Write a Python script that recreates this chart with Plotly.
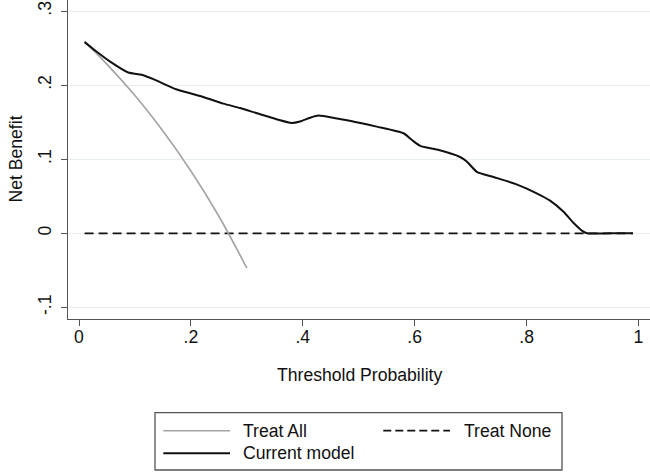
import plotly.graph_objects as go

# ---------------- data ----------------
threshold_model = [0.01, 0.03, 0.055, 0.088, 0.112, 0.133, 0.175, 0.222, 0.258, 0.288,
                   0.318, 0.353, 0.380, 0.395, 0.413, 0.428, 0.461, 0.484, 0.532, 0.580,
                   0.595, 0.610, 0.640, 0.681, 0.693, 0.711, 0.741, 0.782, 0.818, 0.842,
                   0.866, 0.884, 0.900, 0.908, 0.95, 0.99]
net_benefit_model = [0.258, 0.246, 0.232, 0.217, 0.214, 0.208, 0.194, 0.184, 0.175, 0.169,
                     0.162, 0.154, 0.149, 0.151, 0.156, 0.159, 0.155, 0.152, 0.144, 0.135,
                     0.126, 0.118, 0.113, 0.103, 0.097, 0.083, 0.076, 0.066, 0.054, 0.044,
                     0.029, 0.014, 0.003, 0.0, 0.0, 0.0]

threshold_all = [0.01, 0.05, 0.10, 0.15, 0.20, 0.25, 0.30]
net_benefit_all = [0.259, 0.228, 0.186, 0.138, 0.084, 0.023, -0.047]

threshold_none = [0.01, 0.99]
net_benefit_none = [0.0, 0.0]

x_tick_vals = [0, 0.2, 0.4, 0.6, 0.8, 1]
x_tick_text = ["0", ".2", ".4", ".6", ".8", "1"]
y_tick_vals = [-0.1, 0, 0.1, 0.2, 0.3]
y_tick_text = ["-.1", "0", ".1", ".2", ".3"]

series_names = ["Treat All", "Treat None", "Current model"]
x_title = "Threshold Probability"
y_title = "Net Benefit"

# ---------------- styling ----------------
FONT = "Liberation Sans, Arial, Helvetica, sans-serif"
FS = 17.6
AXIS_COL = "#555555"
GRAY = "#a3a3a3"

W, H = 650, 472
L, R, T, B = 68, 0, 0, 153
PW, PH = W - L - R, H - T - B


def px(xp):
    return (xp - L) / PW


def py(yp):
    return (H - B - yp) / PH


fig = go.Figure()
fig.add_trace(go.Scatter(x=threshold_none, y=net_benefit_none, mode="lines",
                         name=series_names[1],
                         line=dict(color="#111111", width=1.8, dash="9px,5px")))
fig.add_trace(go.Scatter(x=threshold_all, y=net_benefit_all, mode="lines",
                         name=series_names[0],
                         line=dict(color=GRAY, width=1.6, shape="spline")))
fig.add_trace(go.Scatter(x=threshold_model, y=net_benefit_model, mode="lines",
                         name=series_names[2],
                         line=dict(color="#111111", width=2.0, shape="spline", smoothing=0.6)))

fig.update_layout(
    width=W, height=H,
    margin=dict(l=L, r=R, t=T, b=B, pad=0),
    paper_bgcolor="white", plot_bgcolor="white",
    showlegend=False,
    font=dict(family=FONT, size=FS, color="#111111"),
)
fig.update_xaxes(
    range=[(L - 79) / 559.5, (W - 79) / 559.5],
    tickvals=x_tick_vals, ticktext=x_tick_text,
    showgrid=False, zeroline=False,
    showline=True, linecolor=AXIS_COL, linewidth=1.3,
    ticks="outside", ticklen=6, tickwidth=1.3, tickcolor=AXIS_COL,
    ticklabelstandoff=-4,
    tickfont=dict(family=FONT, size=FS, color="#111111"),
)
fig.update_yaxes(
    range=[(233.3 - (H - B)) / 741, 233.3 / 741],
    tickvals=y_tick_vals, ticktext=y_tick_text, tickangle=-90,
    showgrid=True, gridcolor="#e6eeef", gridwidth=1.2, zeroline=False,
    showline=True, linecolor=AXIS_COL, linewidth=1.3,
    ticks="outside", ticklen=6, tickwidth=1.3, tickcolor=AXIS_COL,
    ticklabelstandoff=3,
    tickfont=dict(family=FONT, size=FS, color="#111111"),
)

# axis titles
fig.add_annotation(x=px(15), y=0.5, xref="paper", yref="paper", text=y_title,
                   textangle=-90, showarrow=False, xanchor="center", yanchor="middle",
                   font=dict(family=FONT, size=FS, color="#111111"))
fig.add_annotation(x=0.5, y=py(374.5), xref="paper", yref="paper", text=x_title,
                   showarrow=False, xanchor="center", yanchor="middle",
                   font=dict(family=FONT, size=FS, color="#111111"))

# legend (manual, Stata style)
fig.add_shape(type="rect", xref="paper", yref="paper",
              x0=px(155), x1=px(562), y0=py(412.7), y1=py(470),
              line=dict(color=AXIS_COL, width=1.3), fillcolor="white")
legend_rows = [
    (series_names[0], 163.3, 230, 430.7, 240.7, dict(color=GRAY, width=1.6)),
    (series_names[1], 383.3, 450, 430.7, 461.7, dict(color="#111111", width=1.8, dash="8px,4px")),
    (series_names[2], 163.3, 230, 453.3, 240.7, dict(color="#111111", width=2.0)),
]
for name, xa, xb, yy, xt, ln in legend_rows:
    fig.add_shape(type="line", xref="paper", yref="paper",
                  x0=px(xa), x1=px(xb), y0=py(yy), y1=py(yy), line=ln)
    fig.add_annotation(x=px(xt), y=py(yy), xref="paper", yref="paper", text=name,
                       showarrow=False, xanchor="left", yanchor="middle",
                       font=dict(family=FONT, size=FS, color="#111111"))

fig.write_html("out.html",
               config={"displayModeBar": False},
               post_script="document.body.style.margin='0';document.body.style.overflow='hidden';")
